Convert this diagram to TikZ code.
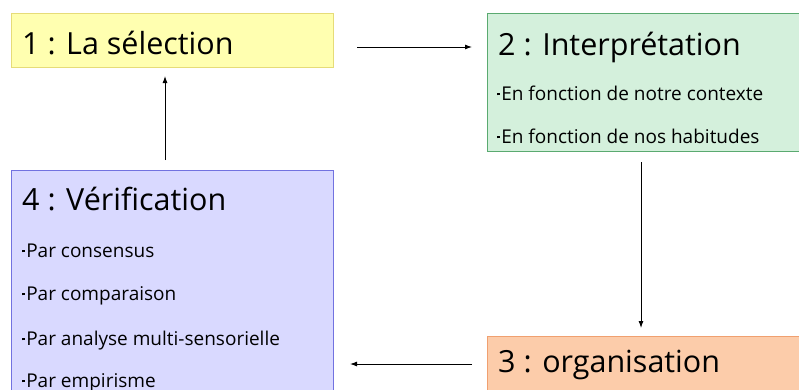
\documentclass[tikz,border=0pt]{standalone}
\usepackage{fontspec}
\setmainfont{Open Sans}
\usetikzlibrary{arrows.meta}
\definecolor{yfill}{HTML}{FFFFB0}
\definecolor{ydraw}{HTML}{E6DC78}
\definecolor{gfill}{HTML}{D4F0DC}
\definecolor{gdraw}{HTML}{5AAA70}
\definecolor{bfill}{HTML}{D9D9FF}
\definecolor{bdraw}{HTML}{7272E0}
\definecolor{ofill}{HTML}{FCCCAA}
\definecolor{odraw}{HTML}{F0A070}
\tikzset{
  box/.style={rectangle, inner sep=0pt, line width=1pt, anchor=north west},
  ttl/.style={anchor=base west, inner sep=0pt, font=\fontsize{30.5}{33}\selectfont},
  itm/.style={anchor=base west, inner sep=0pt, font=\fontsize{19}{21}\selectfont},
  conn/.style={line width=0.9pt, -{Latex[length=7pt,width=5pt]}}
}
\newcommand{\bul}{\raisebox{0.25em}{\rule{2.6pt}{2.6pt}}\hspace{1.5pt}}
\begin{document}
\begin{tikzpicture}[x=1pt,y=-1pt]
\useasboundingbox (0,0) rectangle (799,389);
\clip (0,0) rectangle (799,389);
\node[box, fill=yfill, draw=ydraw, minimum width=322pt, minimum height=54pt] (b1) at (11,13) {};
\node[box, fill=gfill, draw=gdraw, minimum width=340pt, minimum height=138pt] (b2) at (487,13) {};
\node[box, fill=bfill, draw=bdraw, minimum width=322pt, minimum height=240pt] (b4) at (11,170) {};
\node[box, fill=ofill, draw=odraw, minimum width=340pt, minimum height=80pt] (b3) at (487,336) {};

\node[ttl] (t1) at (22,54) {1 : La sélection};
\node[ttl] (t2) at (498,55) {2 : Interprétation};
\node[itm] (i21) at (497,100) {\bul En fonction de notre contexte};
\node[itm] (i22) at (497,143) {\bul En fonction de nos habitudes};
\node[ttl] (t4) at (22,210) {4 : Vérification};
\node[itm] (i41) at (22,257) {\bul Par consensus};
\node[itm] (i42) at (22,300) {\bul Par comparaison};
\node[itm] (i43) at (22,345) {\bul Par analyse multi-sensorielle};
\node[itm] (i44) at (22,387) {\bul Par empirisme};
\node[ttl] (t3) at (498,372) {3 : organisation};

\coordinate (a1s) at (357,47);
\coordinate (a1e) at (472,47);
\coordinate (a2s) at (641,162);
\coordinate (a2e) at (641,328);
\coordinate (a3s) at (472,364);
\coordinate (a3e) at (350,364);
\coordinate (a4s) at (165,160);
\coordinate (a4e) at (165,76);
\draw[conn] (a1s) -- (a1e);
\draw[conn] (a2s) -- (a2e);
\draw[conn] (a3s) -- (a3e);
\draw[conn] (a4s) -- (a4e);
\end{tikzpicture}
\end{document}
